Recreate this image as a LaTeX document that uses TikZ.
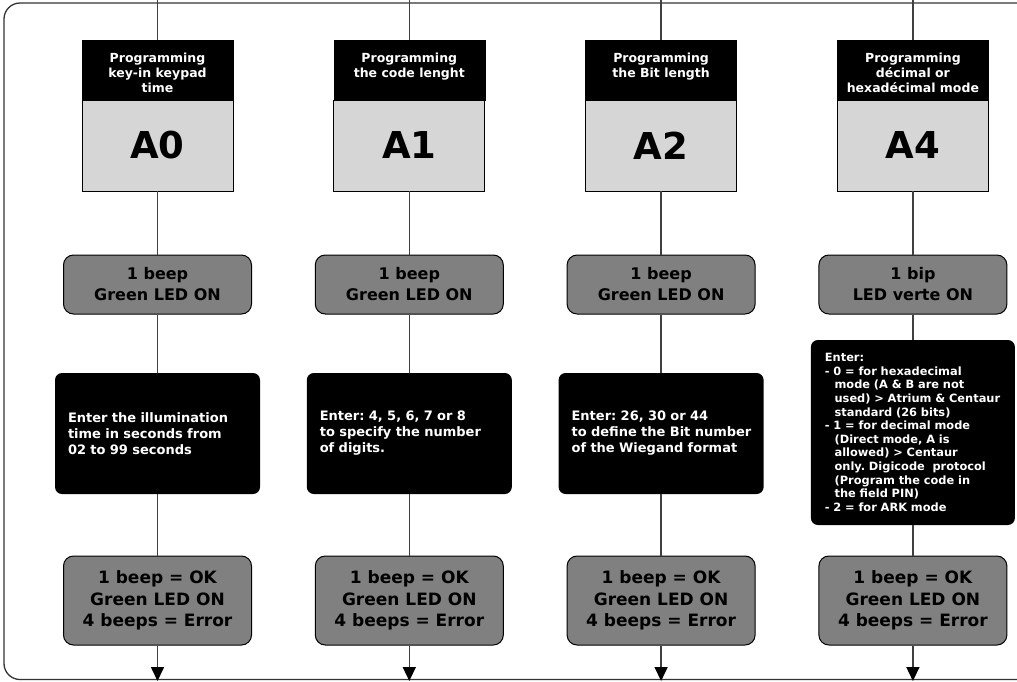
\documentclass[tikz,border=0pt]{standalone}
\usepackage{fontspec}
\setmainfont{DejaVu Sans}
\usetikzlibrary{arrows.meta}
\frenchspacing
\hyphenpenalty=10000

% header text sits at the top of the black band
\newcommand{\headtext}[1]{\parbox[c][60pt][t]{151pt}{\centering\vspace*{12.5pt}#1}}

\tikzset{
    frameline/.style={line width=1.3pt, draw=black!80, rounded corners=16pt},
    flowline/.style={line width=1.6pt, draw=black!75},
    headbox/.style={rectangle, fill=black, draw=black, text=white, inner sep=0pt,
        minimum width=151pt, minimum height=60pt, font=\bfseries\fontsize{12.5}{15}\selectfont},
    regbox/.style={rectangle, fill=black!16, draw=black, line width=0.8pt, inner sep=0pt,
        minimum width=151pt, minimum height=91pt, font=\bfseries\fontsize{37}{40}\selectfont},
    beepbox/.style={rectangle, rounded corners=10pt, fill=black!50, draw=black, line width=1pt,
        minimum width=188pt, minimum height=59pt, align=center, font=\bfseries\fontsize{16}{21}\selectfont},
    resultbox/.style={beepbox, minimum height=89pt, font=\bfseries\fontsize{17}{21.5}\selectfont},
    entrybox/.style={rectangle, rounded corners=7pt, fill=black, text=white, inner xsep=13pt,
        text width=179pt, minimum height=121pt, align=left,
        font=\bfseries\fontsize{13}{16}\selectfont},
}

\begin{document}
\begin{tikzpicture}[x=1pt, y=-1pt]
        \clip (0,0) rectangle (1017,681);
        % outer frame, open on the right
        \draw[frameline] (1040,3) -- (4,3) -- (4,679.5) -- (1040,679.5);

        % column A0
        \begin{scope}
            \coordinate (top0) at (157.5,0);
            \coordinate (end0) at (157.5,681);
            \node[headbox] (title0) at (157.5,70) {\headtext{Programming\\key-in keypad\\time}};
            \node[regbox] (reg0) at (157.5,145.5) {A0};
            \node[beepbox] (beep0) at (157.5,284.5) {1 beep\\Green LED ON};
            \node[entrybox] (entry0) at (157.5,433.5) {Enter the illumination\\time in seconds from\\02 to 99 seconds};
            \node[resultbox] (result0) at (157.5,600.5) {1 beep = OK\\Green LED ON\\4 beeps = Error};
        \end{scope}

        % column A1
        \begin{scope}
            \coordinate (top1) at (409.3,0);
            \coordinate (end1) at (409.3,681);
            \node[headbox] (title1) at (409.3,70) {\headtext{Programming\\the code lenght}};
            \node[regbox] (reg1) at (409.3,145.5) {A1};
            \node[beepbox] (beep1) at (409.3,284.5) {1 beep\\Green LED ON};
            \node[entrybox] (entry1) at (409.3,433.5) {Enter: 4, 5, 6, 7 or 8\\to specify the number\\of digits.};
            \node[resultbox] (result1) at (409.3,600.5) {1 beep = OK\\Green LED ON\\4 beeps = Error};
        \end{scope}

        % column A2
        \begin{scope}
            \coordinate (top2) at (661.1,0);
            \coordinate (end2) at (661.1,681);
            \node[headbox] (title2) at (661.1,70) {\headtext{Programming\\the Bit length}};
            \node[regbox] (reg2) at (661.1,145.5) {A2};
            \node[beepbox] (beep2) at (661.1,284.5) {1 beep\\Green LED ON};
            \node[entrybox] (entry2) at (661.1,433.5) {Enter: 26, 30 or 44\\\mbox{to define the Bit number}\\of the Wiegand format};
            \node[resultbox] (result2) at (661.1,600.5) {1 beep = OK\\Green LED ON\\4 beeps = Error};
        \end{scope}

        % column A4
        \begin{scope}
            \coordinate (top3) at (912.9,0);
            \coordinate (end3) at (912.9,681);
            \node[headbox] (title3) at (912.9,70) {\headtext{Programming\\décimal or\\hexadécimal mode}};
            \node[regbox] (reg3) at (912.9,145.5) {A4};
            \node[beepbox] (beep3) at (912.9,284.5) {1 bip\\LED verte ON};
            \node[entrybox, minimum height=185pt, inner xsep=14pt, text width=176pt,
                font=\bfseries\fontsize{11.4}{13.6}\selectfont] (entry3) at (912.9,432.5)
                {Enter:\\
                - 0 = for hexadecimal\\
                \hspace*{0.85em}mode (A \& B are not\\
                \hspace*{0.85em}used) > Atrium \& Centaur\\
                \hspace*{0.85em}standard (26 bits)\\
                - 1 = for decimal mode\\
                \hspace*{0.85em}(Direct mode, A is\\
                \hspace*{0.85em}allowed) > Centaur\\
                \hspace*{0.85em}only. Digicode\ \ protocol\\
                \hspace*{0.85em}(Program the code in\\
                \hspace*{0.85em}the field PIN)\\
                - 2 = for ARK mode};
            \node[resultbox] (result3) at (912.9,600.5) {1 beep = OK\\Green LED ON\\4 beeps = Error};
        \end{scope}

        % connectors
        \foreach \c in {0,1,2,3} {
            \draw[flowline] (top\c) -- (title\c);
            \draw[flowline] (reg\c) -- (beep\c);
            \draw[flowline] (beep\c) -- (entry\c);
            \draw[flowline] (entry\c) -- (result\c);
            \draw[flowline, -{Triangle[width=13pt, length=14pt, black]}] (result\c) -- (end\c);
        }

    \end{tikzpicture}
\end{document}
